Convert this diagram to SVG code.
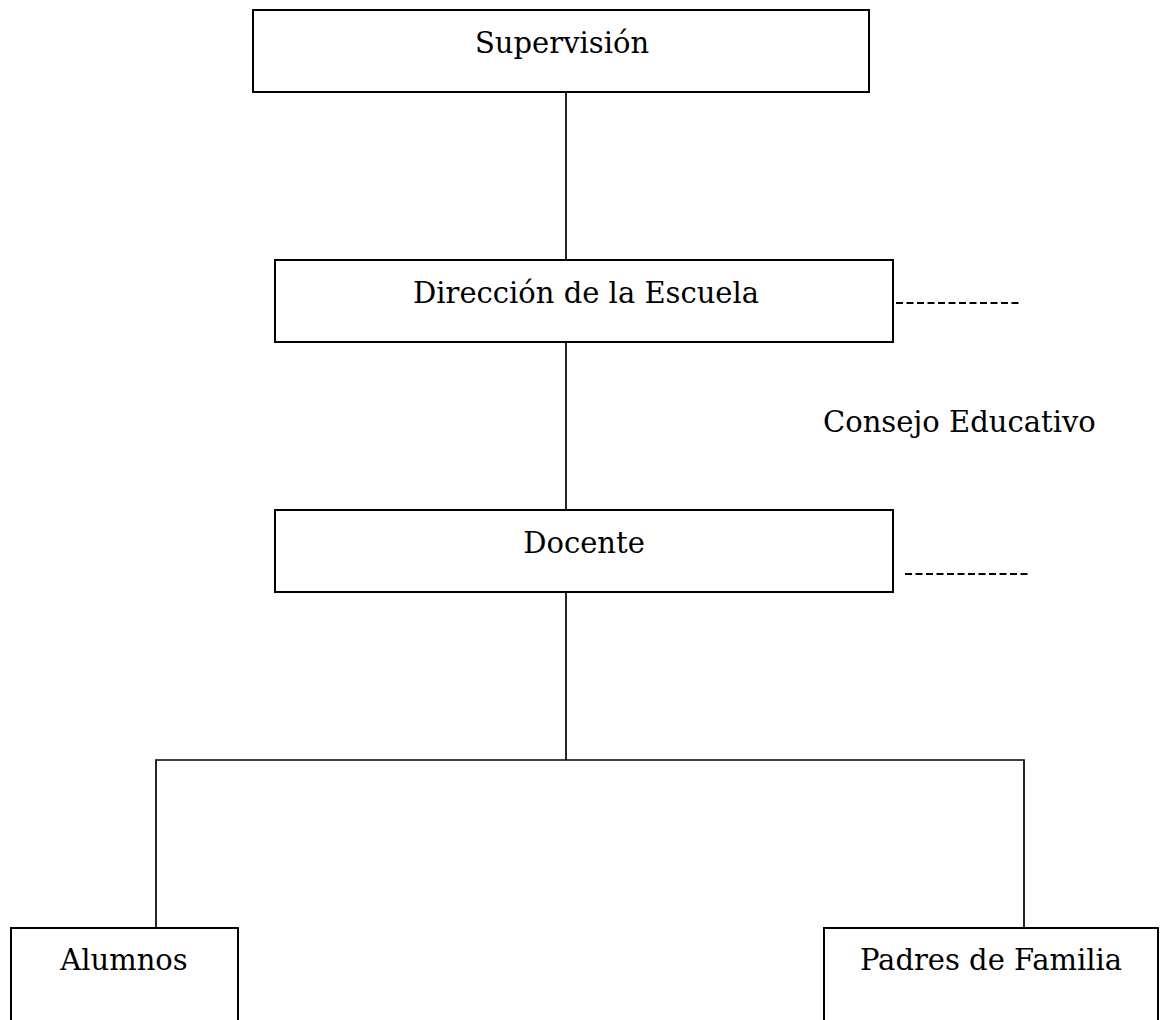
<svg xmlns="http://www.w3.org/2000/svg" width="1162" height="1020" viewBox="0 0 1162 1020">
<style>
.box{fill:#fff;stroke:#000;stroke-width:2}
.t{font-family:"DejaVu Serif","Liberation Serif",serif;font-size:29px;fill:#000}
.m{text-anchor:middle}
.ln{stroke:#000;stroke-width:1.7;fill:none}
.dash{stroke:#000;stroke-width:2.2;stroke-dasharray:7 3.5;fill:none}
</style>
<rect width="1162" height="1020" fill="#fff"/>
<g id="connectors">
<line class="ln" x1="566" y1="92" x2="566" y2="260"/>
<line class="ln" x1="566" y1="342" x2="566" y2="510"/>
<line class="ln" x1="566" y1="592" x2="566" y2="760"/>
<polyline class="ln" points="156,928 156,760 1024,760 1024,928"/>
<line class="dash" x1="896" y1="303" x2="1020" y2="303"/>
<line class="dash" x1="905" y1="574" x2="1029" y2="574"/>
</g>
<g id="supervision">
<rect class="box" x="253" y="10" width="616" height="82"/>
<text class="t" x="475" y="53">Supervisión</text>
</g>
<g id="direccion">
<rect class="box" x="275" y="260" width="618" height="82"/>
<text class="t" x="413" y="303">Dirección de la Escuela</text>
</g>
<g id="consejo">
<text class="t" x="823" y="432">Consejo Educativo</text>
</g>
<g id="docente">
<rect class="box" x="275" y="510" width="618" height="82"/>
<text class="t m" x="584" y="553">Docente</text>
</g>
<g id="alumnos">
<rect class="box" x="11" y="928" width="227" height="110"/>
<text class="t m" x="124" y="970">Alumnos</text>
</g>
<g id="padres">
<rect class="box" x="824" y="928" width="334" height="110"/>
<text class="t m" x="991" y="970">Padres de Familia</text>
</g>
</svg>
